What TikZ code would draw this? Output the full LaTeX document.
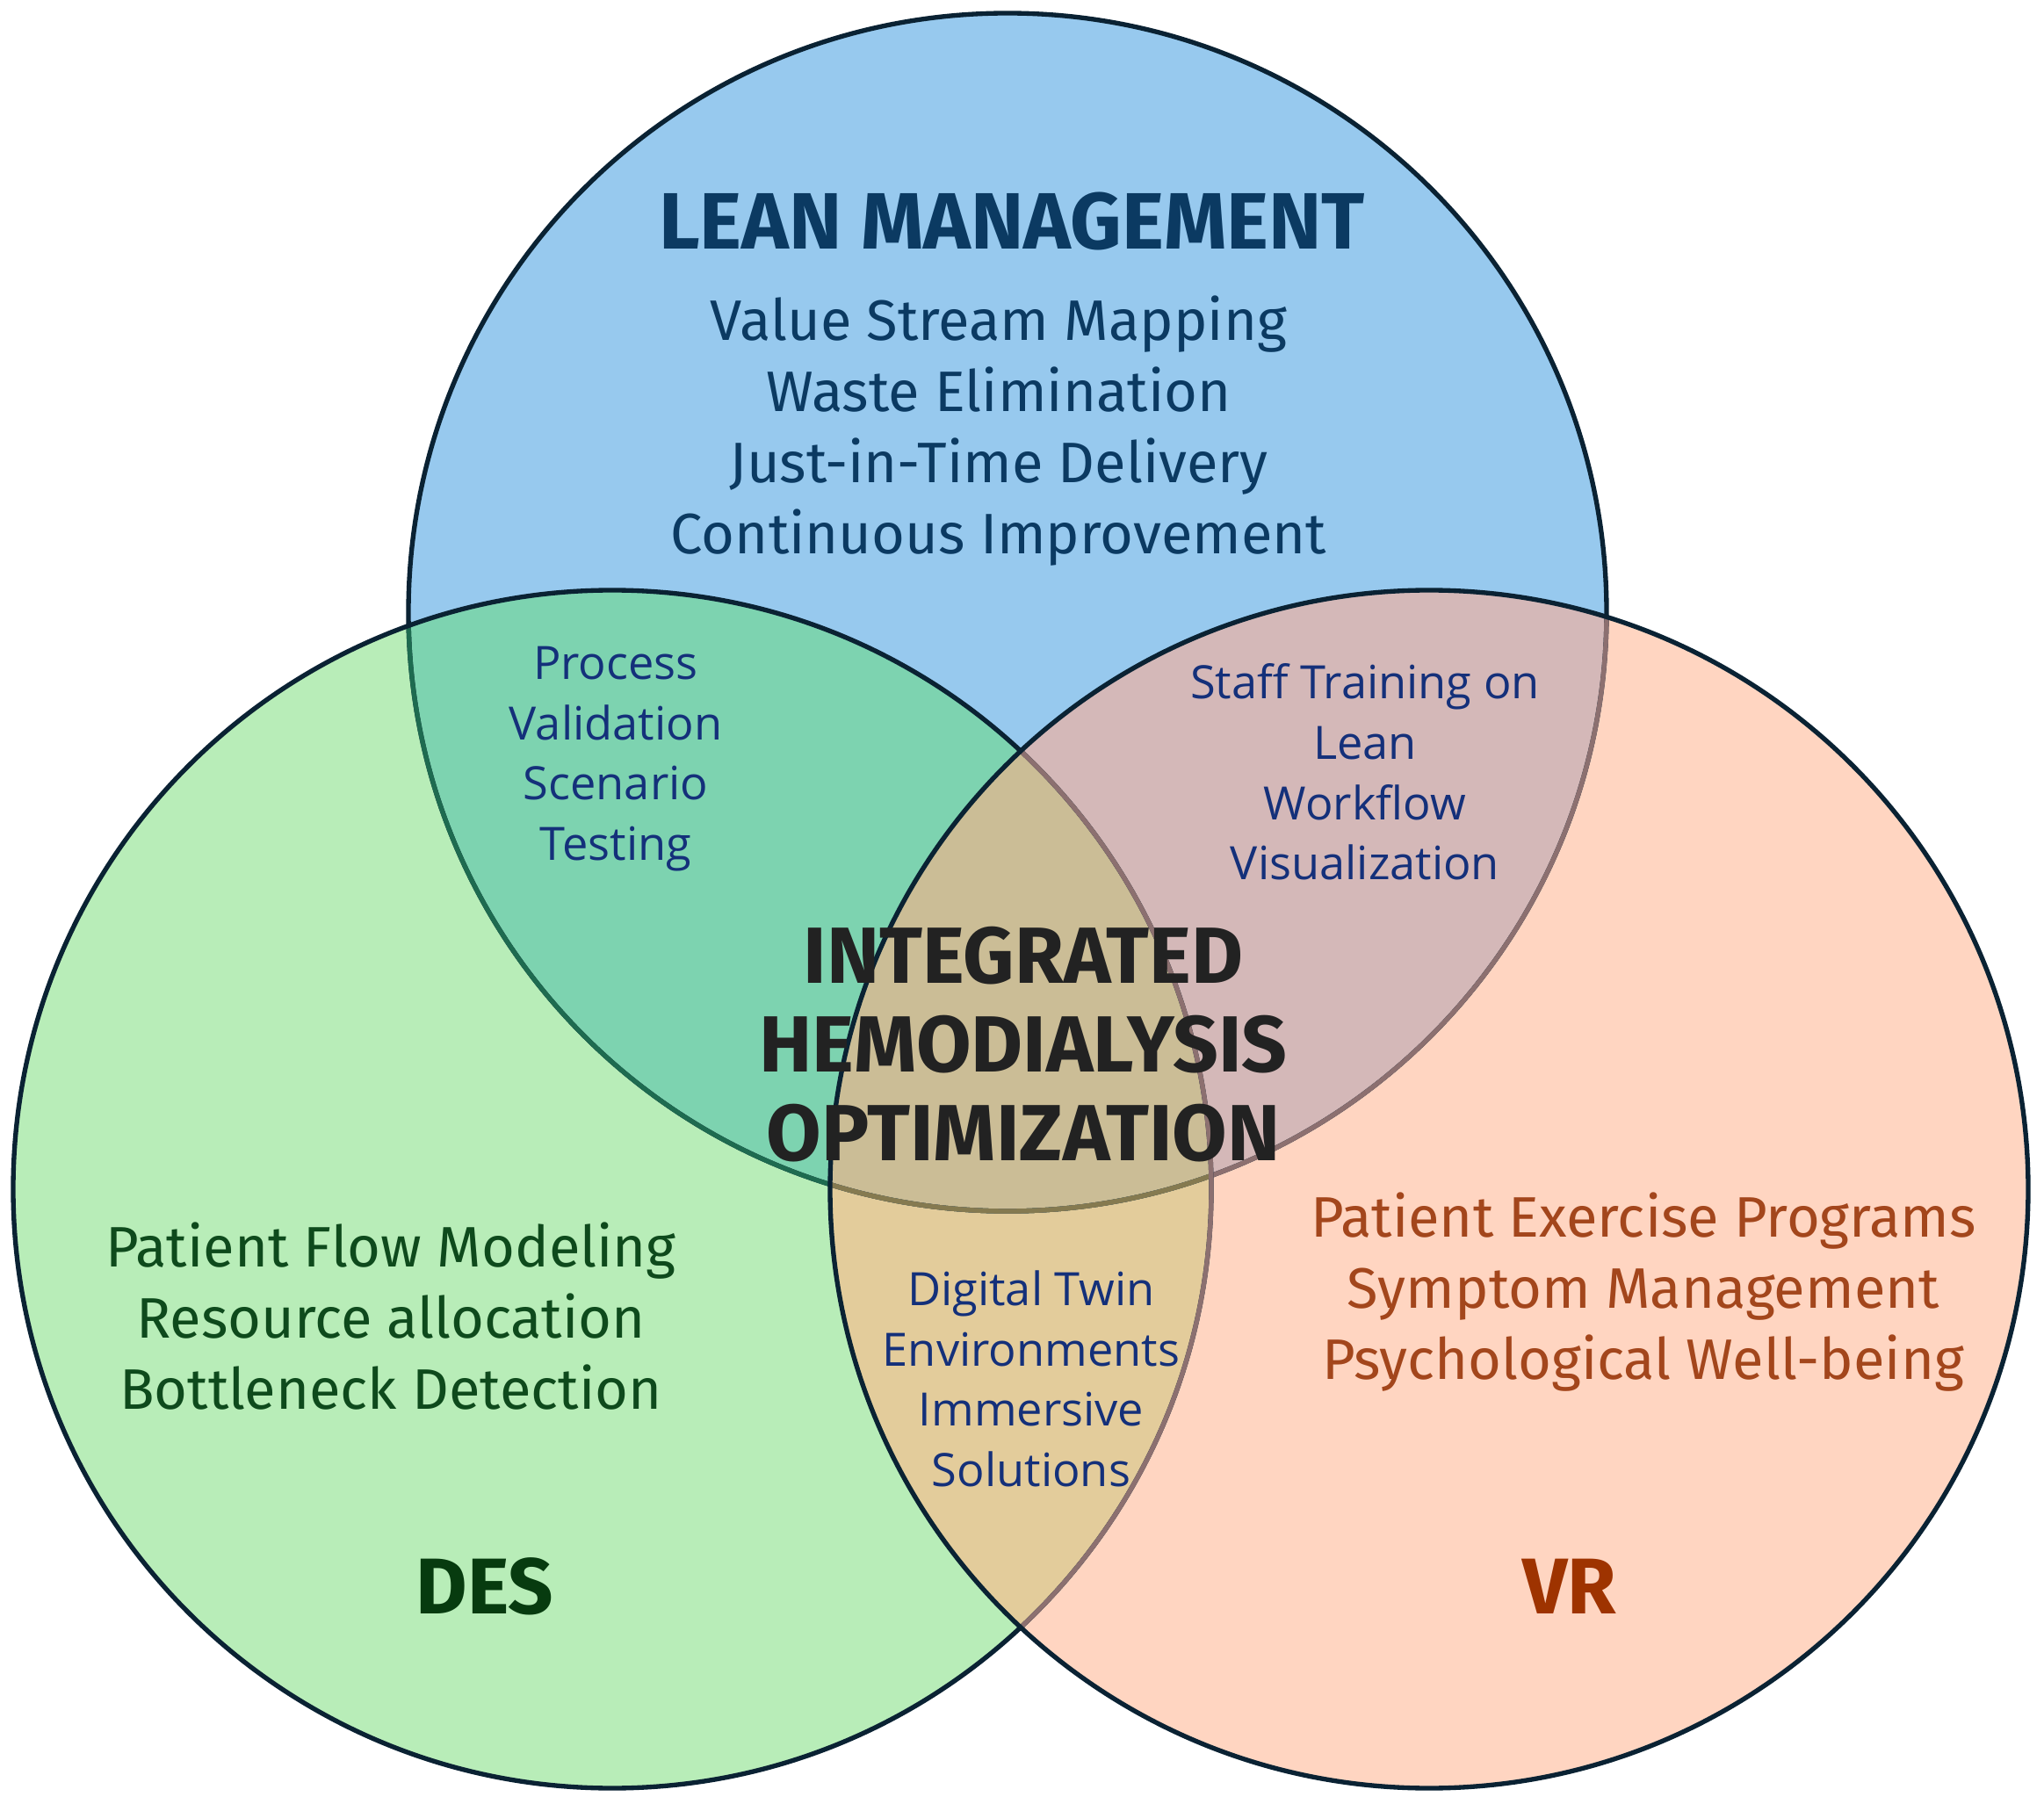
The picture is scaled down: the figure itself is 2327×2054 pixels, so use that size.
\documentclass[tikz,border=0pt]{standalone}
\usepackage{fontspec}
\setmainfont{Fira Sans}
\newfontfamily\aptfont{Open Sans}
\definecolor{cblue}{HTML}{97C9EE}
\definecolor{cgreen}{HTML}{B8EDB8}
\definecolor{cpeach}{HTML}{FFD5C1}
\definecolor{cteal}{HTML}{7DD3B0}
\definecolor{cpink}{HTML}{D4B8B8}
\definecolor{ctan}{HTML}{E3CC9B}
\definecolor{ccenter}{HTML}{CBBD96}
\definecolor{lnavy}{HTML}{0A2233}
\definecolor{lgreen}{HTML}{1E6B50}
\definecolor{lbrown}{HTML}{8C7070}
\definecolor{lolive}{HTML}{857A50}
\definecolor{tnavy}{HTML}{0B3A62}
\definecolor{tblue}{HTML}{14307A}
\definecolor{tdark}{HTML}{222222}
\definecolor{tgreen}{HTML}{0E4A1C}
\definecolor{tdes}{HTML}{073B0F}
\definecolor{torange}{HTML}{A3461C}
\definecolor{tvr}{HTML}{9E3300}
\begin{document}
\begin{tikzpicture}[x=0.3pt,y=-0.3pt,
  ring/.style={line width=1.6pt},
  bigtitle/.style={font=\bfseries\fontsize{27.3}{30}\selectfont, align=center},
  centertitle/.style={font=\bfseries\fontsize{27.2}{30.4}\selectfont, align=center, text=tdark},
  biglist/.style={font=\fontsize{19.5}{24.3}\selectfont, align=center},
  smalllist/.style={font=\aptfont\fontsize{15.7}{20.6}\selectfont, align=center, text=tblue},
  corner/.style={font=\bfseries\fontsize{27}{30}\selectfont}
]
\useasboundingbox (0,0) rectangle (2327,2054);
\fill[white] (0,0) rectangle (2327,2054);
\def\rr{682}
\coordinate (T) at (1147,697);
\coordinate (L) at (697,1354);
\coordinate (R) at (1627,1354);
% fills
\fill[cblue] (T) circle[radius=\rr];
\fill[cgreen] (L) circle[radius=\rr];
\fill[cpeach] (R) circle[radius=\rr];
\begin{scope}\clip (T) circle[radius=\rr]; \fill[cteal] (L) circle[radius=\rr];\end{scope}
\begin{scope}\clip (T) circle[radius=\rr]; \fill[cpink] (R) circle[radius=\rr];\end{scope}
\begin{scope}\clip (L) circle[radius=\rr]; \fill[ctan] (R) circle[radius=\rr];\end{scope}
\begin{scope}\clip (T) circle[radius=\rr]; \clip (L) circle[radius=\rr]; \fill[ccenter] (R) circle[radius=\rr];\end{scope}
% outlines
\draw[ring,lnavy] (T) circle[radius=\rr];
\begin{scope}\clip (L) circle[radius=\rr]; \draw[ring,lgreen] (T) circle[radius=\rr];\end{scope}
\begin{scope}\clip (R) circle[radius=\rr]; \draw[ring,lbrown] (T) circle[radius=\rr];\end{scope}
\begin{scope}\clip (L) circle[radius=\rr]; \clip (R) circle[radius=\rr]; \draw[ring,lolive] (T) circle[radius=\rr];\end{scope}
\draw[ring,lnavy] (L) circle[radius=\rr];
\begin{scope}\clip (R) circle[radius=\rr]; \draw[ring,lbrown] (L) circle[radius=\rr];\end{scope}
\draw[ring,lnavy] (R) circle[radius=\rr];
% texts
\node[bigtitle,text=tnavy] (lean) at (1152,252) {LEAN MANAGEMENT};
\node[biglist,text=tnavy] (leanlist) at (1137,491) {Value Stream Mapping\\Waste Elimination\\Just-in-Time Delivery\\Continuous Improvement};
\node[smalllist] (tl) at (701,864) {Process\\Validation\\Scenario\\Testing};
\node[smalllist] (tr) at (1554,879) {Staff Training on\\Lean\\Workflow\\Visualization};
\node[centertitle] (mid) at (1165,1189) {INTEGRATED\\HEMODIALYSIS\\OPTIMIZATION};
\node[biglist,text=tgreen] (deslist) at (445,1499) {Patient Flow Modeling\\Resource allocation\\Bottleneck Detection};
\node[smalllist] (bot) at (1174,1570) {Digital Twin\\Environments\\Immersive\\Solutions};
\node[biglist,text=torange] (vrlist) at (1871,1471) {Patient Exercise Programs\\Symptom Management\\Psychological Well-being};
\node[corner,text=tdes] (des) at (552,1806) {DES};
\node[corner,text=tvr] (vr) at (1787,1806) {VR};
\end{tikzpicture}
\end{document}
